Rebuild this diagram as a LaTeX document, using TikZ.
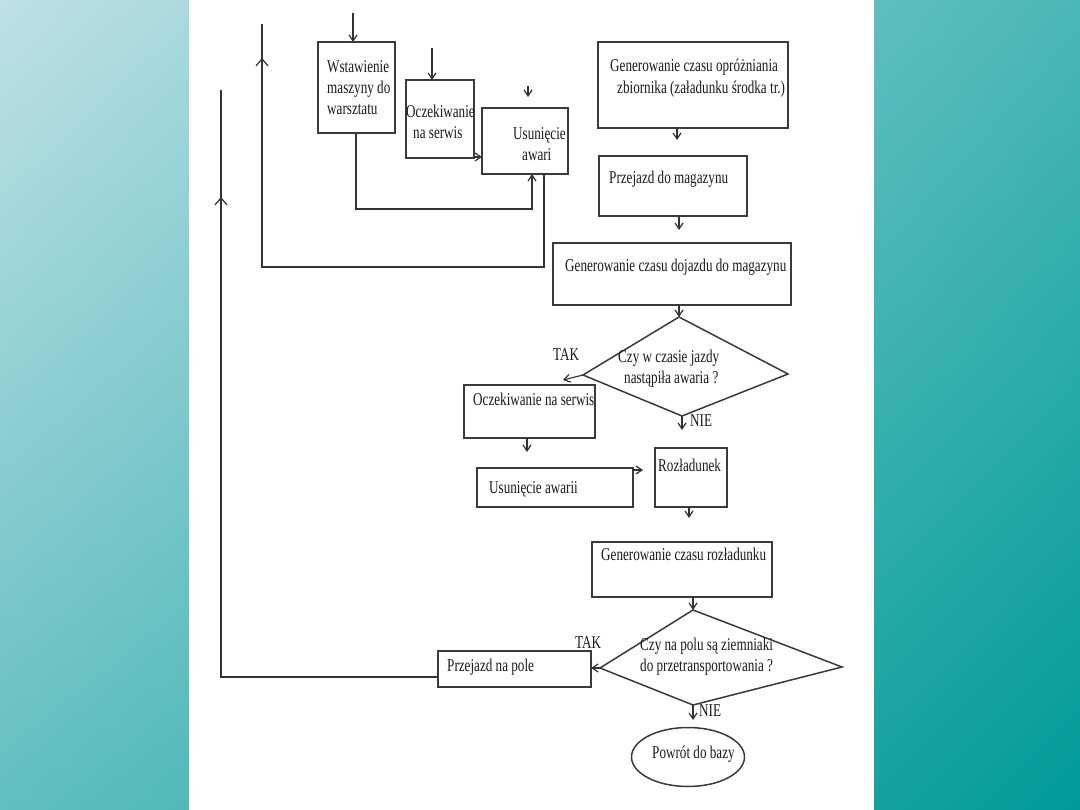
\documentclass[tikz,border=0pt]{standalone}
\usepackage{fontspec}
\setmainfont{Liberation Serif}[FakeStretch=0.73]
\usetikzlibrary{arrows.meta,shadings,shapes.geometric}
\definecolor{boxc}{HTML}{3A3A3A}
\definecolor{linec}{HTML}{333333}
\definecolor{txtc}{HTML}{1A1A1A}
\definecolor{bgUL}{HTML}{BEE1E4}
\definecolor{bgUR}{HTML}{4AB6B7}
\definecolor{bgLL}{HTML}{62BEBF}
\definecolor{bgLR}{HTML}{009B99}
\newcommand\bx[5]{\node[box, minimum width={(#4-#2)*1pt}, minimum height={(#5-#3)*1pt}] (#1) at ({(#2+#4)/2},{(#3+#5)/2}) {};}
\newcommand\tx[4]{\node[lbl] (#1) at (#2,#3) {#4};}
\begin{document}
\begin{tikzpicture}[x=1pt,y=-1pt,
  box/.style={draw=boxc, line width=1.5pt, inner sep=0pt, outer sep=0pt},
  lbl/.style={anchor=mid west, inner sep=0pt, yshift=-1.5pt, font=\fontsize{18}{21}\selectfont, text=txtc},
  con/.style={draw=linec, line width=1.2pt},
  arr/.style={con, -{Straight Barb[length=6pt,width=8pt]}},
  midarr/.style={con, -{Straight Barb[length=7pt,width=12pt]}},
]
% background
\useasboundingbox (0,0) rectangle (1080,810);
\shade[upper left=bgUL, upper right=bgUR, lower left=bgLL, lower right=bgLR] (0,0) rectangle (1080,810);
\fill[white] (189,0) rectangle (874,810);

% boxes
\bx{B1}{318}{42}{395}{133}
\bx{B2}{406}{80}{474}{158}
\bx{B3}{482}{108}{568}{174}
\bx{B4}{598}{42}{788}{128}
\bx{B5}{599}{156}{747}{216}
\bx{B6}{553}{243}{791}{305}
\bx{B7}{464}{385}{595}{438}
\bx{B8}{477}{468}{633}{507}
\bx{B9}{655}{448}{727}{507}
\bx{B10}{592}{542}{772}{597}
\bx{B11}{438}{651}{591}{687}
\node[box, ellipse, minimum width=113pt, minimum height=59pt] (E) at (688,757) {};

% diamonds
\coordinate (d1t) at (679,317);
\coordinate (d1r) at (788,374);
\coordinate (d1b) at (682,416);
\coordinate (d1l) at (583,375);
\draw[box] (d1t) -- (d1r) -- (d1b) -- (d1l) -- cycle;
\coordinate (d2t) at (693,610);
\coordinate (d2r) at (842,667);
\coordinate (d2b) at (693,705);
\coordinate (d2l) at (600,668);
\draw[box] (d2t) -- (d2r) -- (d2b) -- (d2l) -- cycle;

% texts
\tx{t1a}{327}{69}{Wstawienie}
\tx{t1b}{327}{90}{maszyny do}
\tx{t1c}{327}{111}{warsztatu}
\tx{t2a}{406}{114}{Oczekiwanie}
\tx{t2b}{413}{135}{na serwis}
\tx{t3a}{513}{136}{Usunięcie}
\tx{t3b}{522}{157}{awari}
\tx{t4a}{610}{68}{Generowanie czasu opróżniania}
\tx{t4b}{617}{90}{zbiornika (załadunku środka tr.)}
\tx{t5}{609}{180}{Przejazd do magazynu}
\tx{t6}{565}{268}{Generowanie czasu dojazdu do magazynu}
\tx{tk1}{553}{357}{TAK}
\tx{q1a}{618}{359}{Czy w czasie jazdy}
\tx{q1b}{624}{380}{nastąpiła awaria ?}
\tx{t7}{473}{402}{Oczekiwanie na serwis}
\tx{n1}{690}{423}{NIE}
\tx{t8}{489}{490}{Usunięcie awarii}
\tx{t9}{658}{468}{Rozładunek}
\tx{t10}{601}{557}{Generowanie czasu rozładunku}
\tx{tk2}{575}{645}{TAK}
\tx{q2a}{640}{647}{Czy na polu są ziemniaki}
\tx{q2b}{640}{668}{do przetransportowania ?}
\tx{t11}{447}{668}{Przejazd na pole}
\tx{n2}{699}{713}{NIE}
\tx{te}{652}{755}{Powrót do bazy}

% connectors
\coordinate (s1) at (353,13);
\draw[arr] (s1) -- (s1 |- B1.north);
\coordinate (s2) at (432,48);
\draw[arr] (s2) -- (s2 |- B2.north);
\coordinate (s3) at (528,86);
\coordinate (s3e) at (528,97);
\draw[arr] (s3) -- (s3e);
\draw[arr] ([yshift=1pt]B2.south east) -- ([yshift=1pt]B2.south east -| B3.west);
\coordinate (c5a) at (356,209);
\coordinate (c5) at (532,209);
\draw[arr] (c5a |- B1.south) -- (c5a) -- (c5) -- (c5 |- B3.south);
\coordinate (c6a) at (544,267);
\coordinate (c6b) at (262,267);
\coordinate (c6m) at (262,58);
\coordinate (c6e) at (262,24);
\draw[con] (c6a |- B3.south) -- (c6a) -- (c6b) -- (c6e);
\draw[midarr] (c6b) -- (c6m);
\coordinate (c7a) at (221,677);
\coordinate (c7m) at (221,197);
\coordinate (c7e) at (221,90);
\draw[con] (B11.west |- c7a) -- (c7a) -- (c7e);
\draw[midarr] (c7a) -- (c7m);
\coordinate (c8) at (677,140);
\draw[arr] (c8 |- B4.south) -- (c8);
\coordinate (c9) at (679,230);
\draw[arr] (c9 |- B5.south) -- (c9);
\draw[arr] (d1t |- B6.south) -- (d1t);
\coordinate (c11) at (563,380);
\draw[arr] (d1l) -- (c11);
\coordinate (c12) at (527,452);
\draw[arr] (c12 |- B7.south) -- (c12);
\coordinate (c13) at (643,470);
\draw[arr] (c13 -| B8.east) -- (c13);
\coordinate (c14) at (682,430);
\draw[arr] (d1b) -- (c14);
\coordinate (c15) at (689,518);
\draw[arr] (c15 |- B9.south) -- (c15);
\draw[arr] (d2t |- B10.south) -- (d2t);
\draw[arr] (d2l) -- (d2l -| B11.east);
\coordinate (c18) at (693,720);
\draw[arr] (d2b) -- (c18);
\end{tikzpicture}
\end{document}
